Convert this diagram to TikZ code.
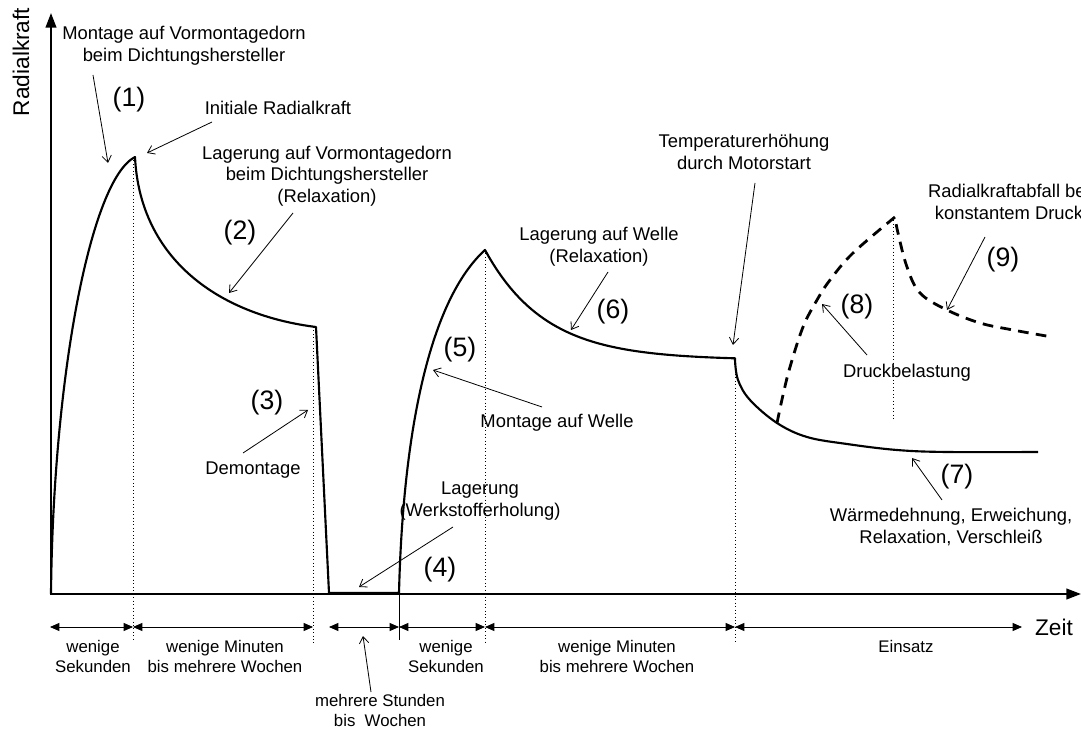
\documentclass[tikz,border=0pt]{standalone}
\usepackage{fontspec}
\setmainfont{Liberation Sans}
\usetikzlibrary{arrows.meta}
\begin{document}
\begin{tikzpicture}[x=0.75pt,y=-0.75pt,
  curve/.style={line width=1.6pt, line join=round},
  dcurve/.style={line width=2.1pt, dash pattern=on 8pt off 5.5pt},
  ann/.style={line width=0.6pt, -{Straight Barb[length=5pt,width=7pt]}},
  guide/.style={line width=0.6pt, dotted},
  axisline/.style={line width=1.5pt, -{Triangle[length=11pt,width=8pt]}},
  dimline/.style={line width=0.6pt, {Triangle[length=7pt,width=6pt]}-{Triangle[length=7pt,width=6pt]}},
  lab/.style={font=\fontsize{13.8}{16.2}\selectfont, align=center, inner sep=0pt},
  num/.style={font=\fontsize{20}{24}\selectfont, inner sep=0pt},
  small/.style={font=\fontsize{12.6}{15}\selectfont, align=center, inner sep=0pt},
  big/.style={font=\fontsize{17}{20}\selectfont, inner sep=0pt}]
\useasboundingbox (0,0) rectangle (1081,730);

% axes
\coordinate (O) at (51,594);
\coordinate (Ytop) at (51,13);
\coordinate (Xstart) at (50,594);
\coordinate (Xend) at (1081,594);
\draw[axisline] (O) -- (Ytop);
\draw[axisline] (Xstart) -- (Xend);
\node[big, rotate=90] (ylab) at (21,62) {Radialkraft};
\node[big] (xlab) at (1054,627) {Zeit};

% guides
\draw[guide] (133,157) -- (133,640);
\draw[guide] (313,327) -- (313,643);
\draw[guide] (485,250) -- (485,643);
\draw[guide] (735,360) -- (735,643);
\draw[guide] (893,217) -- (893,420);
\draw[line width=0.6pt] (399,594) -- (399,640);

% main curve
\draw[curve] (51,594) .. controls (53,380) and (90,180) .. (135,157)
  .. controls (140,260) and (220,315) .. (316,327)
  -- (329,593) -- (399,593)
  .. controls (403,430) and (430,300) .. (485,250)
  -- plot[domain=485:735, samples=60] (\x, {360-110*exp(-(\x-485)/60)})
  -- (735,360)
  -- plot[smooth, tension=0.6] coordinates {(735,360) (738,380) (750,400) (777,423) (807,437) (847,444) (897,450) (947,452) (1038,452)};

% dashed branch
\draw[dcurve] plot[smooth, tension=0.6] coordinates {(777,423) (783,395) (790,367) (803,327) (817,300) (830,280) (853,253) (895,217)}
  -- plot[smooth, tension=0.6] coordinates {(895,217) (898,233) (907,267) (920,293) (947,310) (980,323) (1013,330) (1052,337)};

% labels
\node[lab] (l1) at (184,46) {Montage auf Vormontagedorn\\beim Dichtungshersteller};
\node[num] (n1) at (129,100) {(1)};
\node[lab] (l2) at (278,108) {Initiale Radialkraft};
\node[lab] (l3) at (327,176) {Lagerung auf Vormontagedorn\\beim Dichtungshersteller\\(Relaxation)};
\node[num] (n2) at (240,233) {(2)};
\node[num] (n3) at (267,403) {(3)};
\node[lab] (l4) at (253,470) {Demontage};
\node[lab] (l5) at (480,501) {Lagerung\\(Werkstofferholung)};
\node[num] (n4) at (440,570) {(4)};
\node[num] (n5) at (460,350) {(5)};
\node[lab] (l6) at (557,423) {Montage auf Welle};
\node[lab] (l7) at (599,247) {Lagerung auf Welle\\(Relaxation)};
\node[num] (n6) at (613,312) {(6)};
\node[lab] (l8) at (744,152) {Temperaturerhöhung\\durch Motorstart};
\node[lab] (l9) at (1009,202) {Radialkraftabfall bei\\konstantem Druck};
\node[num] (n9) at (1003,260) {(9)};
\node[num] (n8) at (857,307) {(8)};
\node[lab] (l10) at (907,373) {Druckbelastung};
\node[num] (n7) at (957,477) {(7)};
\node[lab] (l11) at (951,527) {Wärmedehnung, Erweichung,\\Relaxation, Verschleiß};

% annotation arrows
\coordinate (a1s) at (93,75);   \coordinate (a1e) at (108,163);
\coordinate (a2s) at (212,122); \coordinate (a2e) at (147,153);
\coordinate (a3s) at (293,213); \coordinate (a3e) at (229,293);
\coordinate (a4s) at (243,453); \coordinate (a4e) at (308,410);
\coordinate (a5s) at (453,527); \coordinate (a5e) at (359,587);
\coordinate (a6s) at (542,407); \coordinate (a6e) at (433,370);
\coordinate (a7s) at (608,272); \coordinate (a7e) at (571,330);
\coordinate (a8s) at (755,183); \coordinate (a8e) at (733,345);
\coordinate (a9s) at (985,237); \coordinate (a9e) at (947,310);
\coordinate (a10s) at (867,355); \coordinate (a10e) at (822,304);
\coordinate (a11s) at (942,500); \coordinate (a11e) at (912,458);
\coordinate (a12s) at (371,692); \coordinate (a12e) at (363,636);
\foreach \i in {1,...,12} \draw[ann] (a\i s) -- (a\i e);

% time spans
\coordinate (d0) at (50,627);
\coordinate (d1) at (133,627);
\coordinate (d2) at (313,627);
\coordinate (d3) at (329,627);
\coordinate (d4) at (399,627);
\coordinate (d5) at (485,627);
\coordinate (d6) at (735,627);
\coordinate (d7) at (1022,627);
\draw[dimline] (d0) -- (d1);
\draw[dimline] (d1) -- (d2);
\draw[dimline] (d3) -- (d4);
\draw[dimline] (d4) -- (d5);
\draw[dimline] (d5) -- (d6);
\draw[dimline] (d6) -- (d7);

\node[small] (b1) at (93,656) {wenige\\Sekunden};
\node[small] (b2) at (225,656) {wenige Minuten\\bis mehrere Wochen};
\node[small] (b3) at (380,710) {mehrere Stunden\\bis\ \ Wochen};
\node[small] (b4) at (446,656) {wenige\\Sekunden};
\node[small] (b5) at (617,656) {wenige Minuten\\bis mehrere Wochen};
\node[small] (b6) at (906,646) {Einsatz};
\end{tikzpicture}
\end{document}
